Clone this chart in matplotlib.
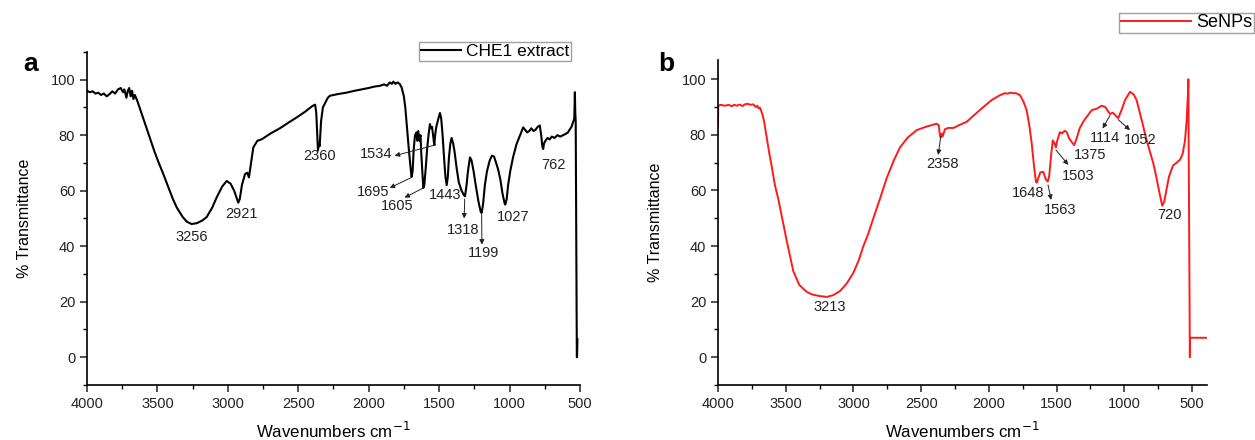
import matplotlib
matplotlib.use("Agg")
import matplotlib.pyplot as plt
from matplotlib.ticker import MultipleLocator

plt.rcParams['font.family'] = ['Liberation Sans', 'DejaVu Sans']

# --- CHE1 extract spectrum (wavenumber, %T) ---
che1_wn = [4000, 3980, 3960, 3940, 3920, 3900, 3880, 3860, 3840, 3820, 3800, 3780,
           3760, 3745, 3735, 3720, 3710, 3700, 3690, 3680, 3670, 3660, 3640, 3620,
           3600, 3580, 3553, 3520, 3490, 3458, 3420, 3390, 3363, 3320, 3290, 3257,
           3220, 3180, 3150, 3110, 3079, 3040, 3008, 2980, 2955, 2935, 2926, 2915,
           2900, 2878, 2862, 2850, 2835, 2819, 2790, 2760, 2700, 2630, 2570, 2511,
           2450, 2400, 2380, 2372, 2365, 2360, 2354, 2348, 2338, 2325, 2310, 2290,
           2275, 2220, 2160, 2100, 2040, 2000, 1960, 1920, 1890, 1870, 1850, 1835,
           1825, 1810, 1795, 1780, 1766, 1750, 1740, 1730, 1715, 1700, 1695, 1688,
           1680, 1671, 1660, 1655, 1648, 1640, 1632, 1625, 1612, 1605, 1595, 1585,
           1575, 1565, 1558, 1550, 1540, 1534, 1528, 1520, 1505, 1494, 1485, 1475,
           1465, 1455, 1446, 1438, 1430, 1420, 1411, 1400, 1390, 1375, 1360, 1340,
           1325, 1316, 1305, 1295, 1281, 1270, 1255, 1240, 1220, 1205, 1198, 1188,
           1175, 1160, 1140, 1125, 1110, 1095, 1080, 1065, 1050, 1035, 1030, 1020,
           1010, 995, 975, 950, 925, 903, 890, 875, 860, 845, 830, 815, 800, 785,
           775, 767, 761, 755, 745, 730, 715, 700, 680, 660, 640, 620, 600, 585,
           573, 560, 550, 540, 536, 533, 530, 526, 522, 520, 518]
che1_t = [96, 95.5, 95.8, 95, 95.3, 94.5, 95, 94, 94.8, 95.8, 95, 96.5,
          97, 95.5, 96.5, 93.5, 96, 97, 94, 96, 93, 94.5, 92, 89,
          86, 83, 79, 74, 70, 66, 61, 57, 54, 50.5, 48.8, 48,
          48.3, 49.3, 50.5, 54, 57.6, 61.5, 63.5, 62.5, 60, 57, 55.7, 57,
          62, 66, 66.5, 64.8, 70, 75.6, 78, 78.5, 80.5, 82.5, 84.5, 86.4,
          88.5, 90.5, 91, 88, 80, 74.5, 77, 76, 85, 90, 91.5, 93.5,
          94.2, 94.8, 95.3, 96, 96.6, 97, 97.5, 97.8, 98.3, 97.8, 99, 98.5,
          99.3, 98.5, 99, 98.5, 97.2, 94, 90, 84, 75, 67, 65, 67,
          75, 80, 81, 78, 81.5, 78, 80, 72, 61, 62, 68, 75,
          80, 84, 82.5, 83, 79, 76.5, 80, 83, 86, 88, 86, 80,
          72, 65, 62, 65, 72, 77, 79, 77, 74, 68, 63, 60,
          58.5, 58, 62, 67, 72, 71, 67, 62, 56, 52.5, 52, 55,
          62, 67, 71, 72.6, 72.3, 70, 67.5, 64, 59, 55.5, 55, 57,
          62, 67, 72, 76.8, 80, 82.8, 82, 81, 81.5, 82.5, 81.5, 82, 83, 83.5,
          80, 76, 75, 77, 78, 79, 78.5, 79.5, 79, 80, 79.5, 80, 80.5, 81,
          82, 83, 84.5, 86, 95.5, 88, 85, 40, 0, 0.5, 6.5]

# --- SeNPs spectrum ---
senp_wn = [4000, 3998, 3980, 3950, 3920, 3900, 3880, 3860, 3840, 3820, 3800, 3780,
           3760, 3740, 3720, 3710, 3700, 3690, 3680, 3670, 3660, 3640, 3620, 3603,
           3580, 3555, 3530, 3493, 3444, 3400, 3345, 3300, 3250, 3197, 3150, 3099,
           3050, 3001, 2960, 2927, 2890, 2853, 2804, 2754, 2700, 2656, 2600,
           2533, 2460, 2400, 2386, 2370, 2362, 2355, 2348, 2340, 2325, 2300, 2260,
           2220, 2164, 2100, 2041, 1980, 1918, 1880, 1860, 1844, 1820, 1800, 1770,
           1745, 1721, 1700, 1684, 1665, 1652, 1645, 1635, 1620, 1598, 1580, 1565,
           1555, 1540, 1528, 1515, 1505, 1495, 1475, 1460, 1440, 1425, 1410, 1390,
           1370, 1350, 1330, 1300, 1278, 1240, 1200, 1168, 1140, 1120, 1106, 1085,
           1065, 1045, 1020, 995, 958, 930, 909, 870, 835, 786, 760, 740, 720, 705,
           690, 670, 640, 613, 590, 570, 552, 540, 530, 527, 524, 516, 515, 396]
senp_t = [83, 90.5, 90.8, 90.5, 90.8, 90.3, 90.8, 90.5, 90.9, 90.4, 91, 91.2,
          90.8, 91, 90, 90.5, 89.5, 89.8, 88.5, 87, 85, 79, 73, 68.6,
          62, 57, 51, 42, 31, 26, 23.5, 22.5, 22, 21.7, 22.3, 23.8,
          26.5, 30.3, 35, 39.9, 44.5, 50, 57, 64.5, 71, 75.5, 79,
          81.7, 83, 83.8, 84, 83.5, 80, 79, 80.5, 79.5, 82, 82.5, 82.5,
          83.5, 84.7, 87.5, 90, 92.5, 94.3, 95, 94.8, 95.2, 95, 95, 94.3,
          92, 88.9, 83, 77, 68, 63, 62.8, 64.5, 66.5, 66.7, 64, 63.2,
          65, 73, 78, 77, 75.5, 78, 81, 80.5, 81.5, 81, 79, 77.5,
          76.3, 79, 82.3, 85, 86.5, 88.9, 89.5, 90.5, 90, 88.5, 87.5, 88,
          87, 86, 89, 92.5, 95.5, 94.5, 92.5, 85, 78, 69.8, 64, 59, 54.5, 56,
          60, 65, 69, 70, 71, 73, 78, 85, 95, 100, 70, 0, 7, 7]

# peak labels: (text, text_x, text_y, arrow_from_x, arrow_from_y, arrow_to_x, arrow_to_y)
che1_labels = [("3256", 3256, 43.5, None, None, None, None),
               ("2921", 2900, 51.5, None, None, None, None),
               ("2360", 2346, 72.6, None, None, None, None),
               ("1534", 1945, 73.4, 1525, 76.5, 1815, 72.6),
               ("1695", 1965, 59.7, 1695, 64.8, 1850, 61),
               ("1605", 1800, 54.5, 1612, 61, 1745, 57.5),
               ("1443", 1458, 58.5, None, None, None, None),
               ("1318", 1330, 45.7, 1318, 57, 1322, 50),
               ("1199", 1185, 37.7, 1198, 51.5, 1196, 40.6),
               ("1027", 974, 50.7, None, None, None, None),
               ("762", 690, 69.3, None, None, None, None)]
senp_labels = [("3213", 3175, 18.2, None, None, None, None),
               ("2358", 2341, 69.5, 2355, 79.5, 2374, 72.8),
               ("1648", 1709, 59, None, None, None, None),
               ("1563", 1474, 53, 1563, 62, 1540, 56.6),
               ("1503", 1339, 65.2, 1505, 74.6, 1414, 69.2),
               ("1375", 1253, 72.8, None, None, None, None),
               ("1114", 1140, 79, 1106, 87, 1160, 82.3),
               ("1052", 885, 78, 1045, 85.5, 958, 81.7),
               ("720", 668, 51.3, None, None, None, None)]

fig = plt.figure(figsize=(12.55, 4.4), dpi=100)
ax1 = fig.add_axes([0.0693, 0.125, 0.3928, 0.757])
ax2 = fig.add_axes([0.5721, 0.125, 0.3896, 0.739])


def style(ax, ytop, xright):
    ax.set_xlim(4000, xright)
    ax.set_ylim(-10, ytop)
    for s in ['top', 'right']:
        ax.spines[s].set_visible(False)
    for s in ['left', 'bottom']:
        ax.spines[s].set_linewidth(1.2)
    ax.xaxis.set_major_locator(MultipleLocator(500))
    ax.xaxis.set_minor_locator(MultipleLocator(250))
    ax.yaxis.set_major_locator(MultipleLocator(20))
    ax.yaxis.set_minor_locator(MultipleLocator(10))
    ax.set_yticks([0, 20, 40, 60, 80, 100])
    ax.tick_params(which='major', direction='out', length=5, width=1.1,
                   labelsize=10.5, colors='#222222')
    ax.tick_params(which='minor', direction='out', length=3, width=1)
    ax.set_xlabel('Wavenumbers cm$^{-1}$', fontsize=12.2, labelpad=7)
    ax.set_ylabel('% Transmittance', fontsize=11.5, labelpad=13)


def annotate(ax, labels):
    for txt, tx, ty, fx, fy, hx, hy in labels:
        ax.text(tx, ty, txt, ha='center', va='center', fontsize=10.5, color='#222222')
        if fx is not None:
            ax.annotate('', xy=(hx, hy), xytext=(fx, fy),
                        arrowprops=dict(arrowstyle='-|>', color='#222222', lw=0.7,
                                        mutation_scale=7, shrinkA=0, shrinkB=0))


ax1.plot(che1_wn, che1_t, color='black', lw=1.5, label='CHE1 extract')
style(ax1, 110, 500)
annotate(ax1, che1_labels)
ax1.legend(loc='upper right', bbox_to_anchor=(0.982, 1.03), fontsize=12.5,
           frameon=True, fancybox=False, edgecolor='#888888', handlelength=2.3,
           handletextpad=0.3, borderpad=0.1, borderaxespad=0)

ax2.plot(senp_wn, senp_t, color='#ff1a1a', lw=1.4, label='SeNPs')
style(ax2, 107, 390)
annotate(ax2, senp_labels)
ax2.legend(loc='upper left', bbox_to_anchor=(0.82, 1.145), fontsize=13,
           frameon=True, fancybox=False, edgecolor='#888888', handlelength=3.9,
           handletextpad=0.3, borderpad=0.1, borderaxespad=0)

fig.text(0.024, 0.855, 'a', fontsize=19, fontweight='bold', ha='center', va='center')
fig.text(0.531, 0.855, 'b', fontsize=19, fontweight='bold', ha='center', va='center')

fig.savefig('out.png', dpi=100)
